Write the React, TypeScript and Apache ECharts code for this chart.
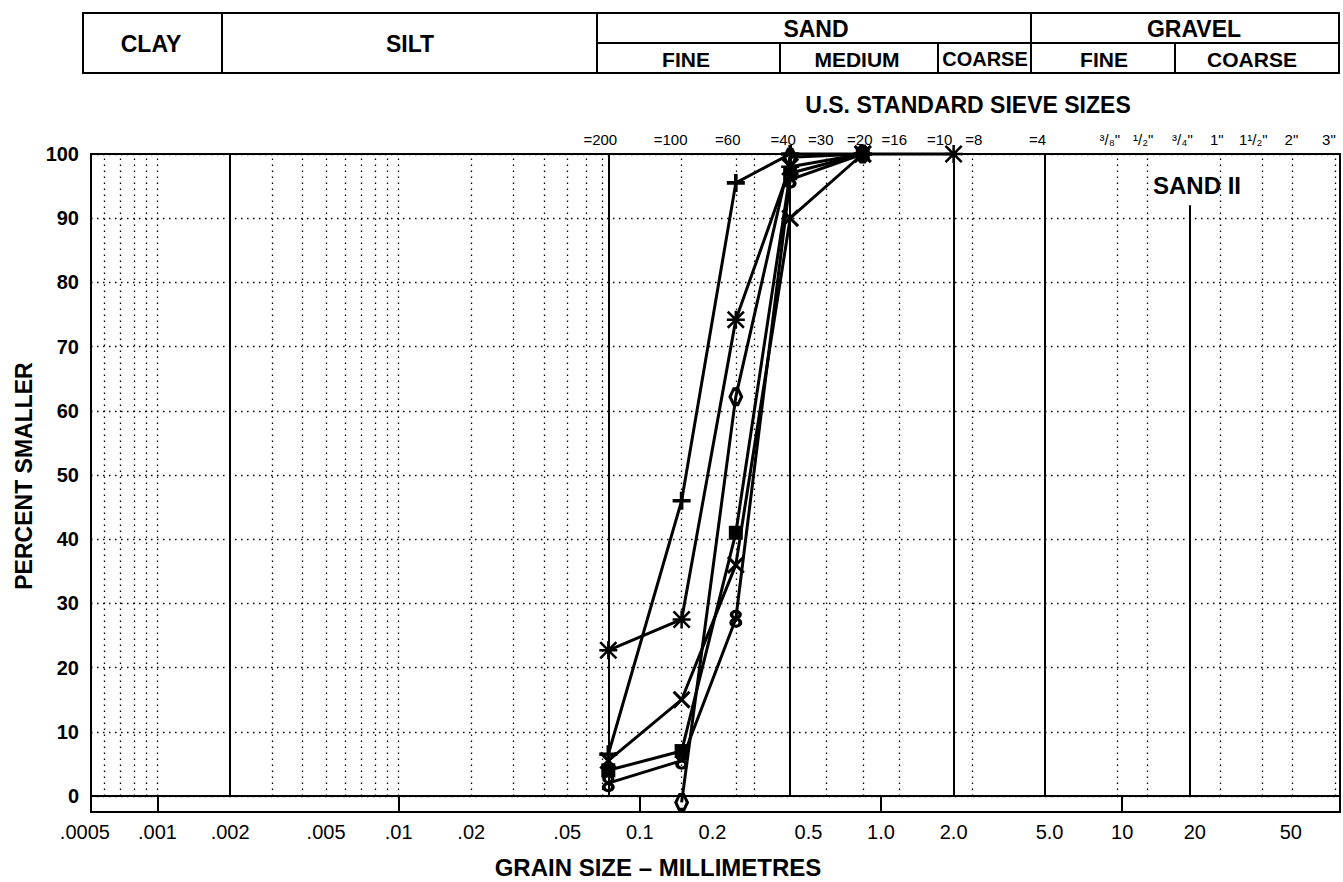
import React, { useEffect, useRef } from "react";
import * as echarts from "echarts";

// ---------- DATA ----------
// grain size (mm) vs percent smaller, six samples (SAND II)
const samplePlus = [[0.074, 6.5], [0.149, 46], [0.25, 95.5], [0.42, 100], [0.84, 100]];
const sampleStar = [[0.074, 22.7], [0.149, 27.5], [0.25, 74.2], [0.42, 98], [0.84, 100], [2.0, 100]];
const sampleCross = [[0.074, 5.5], [0.149, 15], [0.25, 36], [0.42, 90], [0.84, 100]];
const sampleHex = [[0.149, -1], [0.25, 62.2], [0.42, 99.5], [0.84, 100]];
const sampleSquare = [[0.074, 4], [0.149, 7], [0.25, 41], [0.42, 97], [0.84, 100]];
const sampleEight = [[0.074, 2], [0.149, 5.5], [0.25, 27.6], [0.42, 96], [0.84, 100]];

const xTickValues = [0.0005, 0.001, 0.002, 0.005, 0.01, 0.02, 0.05, 0.1, 0.2, 0.5, 1, 2, 5, 10, 20, 50];
const xTickLabels = [".0005", ".001", ".002", ".005", ".01", ".02", ".05", "0.1", "0.2", "0.5", "1.0", "2.0", "5.0", "10", "20", "50"];

const sieveValues = [0.074, 0.149, 0.25, 0.42, 0.59, 0.84, 1.19, 2.0, 2.38, 4.76, 9.5, 12.7, 19.0, 25.4, 38.1, 50.8, 76.2];
const sieveLabels = ["=200", "=100", "=60", "=40", "=30", "=20", "=16", "=10", "=8", "=4", "³/₈\"", "¹/₂\"", "³/₄\"", "1\"", "1¹/₂\"", "2\"", "3\""];

const boundaryValues = [0.002, 0.074, 0.42, 2.0, 4.76];
const gravelBoundary = 19.0;
const dottedValues = [
  0.0006, 0.0007, 0.0008, 0.0009, 0.001,
  0.003, 0.004, 0.005, 0.006, 0.007, 0.008, 0.009, 0.01,
  0.02, 0.03, 0.04, 0.05, 0.06, 0.07,
  0.149, 0.25, 0.297, 0.59, 0.84, 1.19, 2.38,
  9.5, 12.7, 25.4, 38.1, 50.8, 76.2,
];
const stripDecades = [0.001, 0.01, 0.1, 1, 10];

const X_MIN = 0.00053;
const X_MAX = 80;

// ---------- LAYOUT ----------
const FONT = '"Liberation Sans", Arial, Helvetica, sans-serif';
const PLOT = { left: 91, top: 154, width: 1249, height: 642 };
const STRIP_H = 16;
const TABLE = { left: 83, right: 1339, top: 13, mid: 43, bottom: 73 };
const tableFullDividers = [222, 597, 1031];
const tableLowerDividers = [780, 938, 1175];
const tableTexts = [
  { t: "CLAY", x: 151, y: 44, s: 23 },
  { t: "SILT", x: 410, y: 44, s: 23 },
  { t: "SAND", x: 816, y: 29, s: 23 },
  { t: "GRAVEL", x: 1194, y: 29, s: 23 },
  { t: "FINE", x: 686, y: 59, s: 21 },
  { t: "MEDIUM", x: 857, y: 59, s: 21 },
  { t: "COARSE", x: 985, y: 59, s: 20 },
  { t: "FINE", x: 1104, y: 59, s: 21 },
  { t: "COARSE", x: 1252, y: 59, s: 21 },
];
// horizontal nudge of each sieve label relative to its sieve line
const sieveLabelNudge = [-8, -11, -8, -7, -5, -3, -5, -14, 2, -7, -7, -4, -7, -3, -9, -1, -6];

const symPlus = "path://M4,0H6V4H10V6H6V10H4V6H0V4H4Z";
const symCross = "path://M1.2,0L5,3.8L8.8,0L10,1.2L6.2,5L10,8.8L8.8,10L5,6.2L1.2,10L0,8.8L3.8,5L0,1.2Z";
const symStar = "path://M4.3,0H5.7V10H4.3Z M0,4.3H10V5.7H0Z M1,0L5,4L9,0L10,1L6,5L10,9L9,10L5,6L1,10L0,9L4,5L0,1Z";
const symHex = "path://M3,0H7L10,5L7,10H3L0,5Z M3.9,2.2L2.3,5L3.9,7.8H6.1L7.7,5L6.1,2.2Z";
const symEight = "path://M0.8,3.2A3.2,3.2 0 1 1 7.2,3.2A3.2,3.2 0 1 1 0.8,3.2Z M2.7,3.2A1.3,1.3 0 1 0 5.3,3.2A1.3,1.3 0 1 0 2.7,3.2Z M0.6,8.6A3.4,3.4 0 1 1 7.4,8.6A3.4,3.4 0 1 1 0.6,8.6Z M2.6,8.6A1.4,1.4 0 1 0 5.4,8.6A1.4,1.4 0 1 0 2.6,8.6Z";

function sampleSeries(name: string, data: number[][], symbol: string, size: any) {
  return {
    name,
    type: "line",
    xAxisIndex: 0,
    yAxisIndex: 0,
    data,
    symbol,
    symbolSize: size,
    showSymbol: true,
    clip: false,
    z: 5,
    lineStyle: { color: "#000", width: 3 },
    itemStyle: { color: "#000" },
  };
}

function vLines(values: any[], style: any, xi: number) {
  return {
    type: "scatter",
    xAxisIndex: xi,
    yAxisIndex: xi,
    data: [],
    silent: true,
    markLine: {
      symbol: ["none", "none"],
      silent: true,
      precision: 8,
      label: { show: false },
      lineStyle: style,
      data: values,
    },
  };
}

export default function App() {
  const ref = useRef<HTMLDivElement>(null);
  useEffect(() => {
    const chart = echarts.init(ref.current!, undefined, { renderer: "svg" });
    const dotted = { color: "#000", width: 1.3, type: [1.5, 4.5] as any };
    const solid = { color: "#000", width: 2, type: "solid" };
    const option: any = {
      animation: false,
      backgroundColor: "#fff",
      grid: [
        { left: PLOT.left, top: PLOT.top, width: PLOT.width, height: PLOT.height, show: true, borderColor: "#000", borderWidth: 2, backgroundColor: "transparent" },
        { left: PLOT.left, top: PLOT.top + PLOT.height, width: PLOT.width, height: STRIP_H, show: true, borderColor: "#000", borderWidth: 2, backgroundColor: "transparent" },
      ],
      xAxis: [0, 1].map((gi) => ({
        type: "log",
        logBase: 10,
        min: X_MIN,
        max: X_MAX,
        gridIndex: gi,
        axisLine: { show: false },
        axisTick: { show: false },
        axisLabel: { show: false },
        splitLine: { show: false },
      })),
      yAxis: [
        {
          type: "value",
          min: 0,
          max: 100,
          interval: 10,
          gridIndex: 0,
          axisLine: { show: false },
          axisTick: { show: false },
          axisLabel: { color: "#000", fontSize: 20, fontWeight: "bold", fontFamily: FONT, margin: 12 },
          splitLine: { show: true, lineStyle: dotted },
        },
        { type: "value", min: 0, max: 1, gridIndex: 1, show: false, splitLine: { show: false } },
      ],
      series: [
        vLines(dottedValues.map((v) => ({ xAxis: v })), dotted, 0),
        vLines(
          [
            ...boundaryValues.map((v) => ({ xAxis: v })),
            [{ coord: [gravelBoundary, 0] }, { coord: [gravelBoundary, 92] }],
          ],
          solid,
          0
        ),
        vLines(stripDecades.map((v) => ({ xAxis: v })), solid, 1),
        sampleSeries("plus", samplePlus, symPlus, 18),
        sampleSeries("star", sampleStar, symStar, 18),
        sampleSeries("cross", sampleCross, symCross, 18),
        sampleSeries("hex", sampleHex, symHex, [15, 19]),
        sampleSeries("square", sampleSquare, "rect", 14),
        sampleSeries("eight", sampleEight, symEight, [13, 18]),
      ],
    };
    chart.setOption(option);

    const px = (v: number) => chart.convertToPixel({ xAxisIndex: 0 }, v) as number;
    const g: any[] = [];
    // table
    g.push({ type: "rect", shape: { x: TABLE.left, y: TABLE.top, width: TABLE.right - TABLE.left, height: TABLE.bottom - TABLE.top }, style: { fill: "none", stroke: "#000", lineWidth: 2 } });
    g.push({ type: "line", shape: { x1: tableFullDividers[1], y1: TABLE.mid, x2: TABLE.right, y2: TABLE.mid }, style: { stroke: "#000", lineWidth: 2 } });
    tableFullDividers.forEach((x) => g.push({ type: "line", shape: { x1: x, y1: TABLE.top, x2: x, y2: TABLE.bottom }, style: { stroke: "#000", lineWidth: 2 } }));
    tableLowerDividers.forEach((x) => g.push({ type: "line", shape: { x1: x, y1: TABLE.mid, x2: x, y2: TABLE.bottom }, style: { stroke: "#000", lineWidth: 2 } }));
    tableTexts.forEach((t) => g.push({ type: "text", x: t.x, y: t.y, style: { text: t.t, fill: "#000", font: `bold ${t.s}px ${FONT}`, align: "center", verticalAlign: "middle" } }));
    // titles
    g.push({ type: "text", x: 968, y: 105, style: { text: "U.S. STANDARD SIEVE SIZES", fill: "#000", font: `bold 23px ${FONT}`, align: "center", verticalAlign: "middle" } });
    g.push({ type: "text", x: 658, y: 867, style: { text: "GRAIN SIZE – MILLIMETRES", fill: "#000", font: `bold 24px ${FONT}`, align: "center", verticalAlign: "middle" } });
    g.push({ type: "text", x: 24, y: 476, rotation: Math.PI / 2, style: { text: "PERCENT SMALLER", fill: "#000", font: `bold 23px ${FONT}`, align: "center", verticalAlign: "middle" } });
    g.push({ type: "text", x: 1197, y: 185, z: 10, style: { text: "SAND II", fill: "#000", font: `bold 24px ${FONT}`, align: "center", verticalAlign: "middle" } });
    // sieve labels
    sieveValues.forEach((v, i) => {
      g.push({ type: "text", x: px(v) + sieveLabelNudge[i], y: 139, style: { text: sieveLabels[i], fill: "#000", font: `15px ${FONT}`, align: "center", verticalAlign: "middle" } });
    });
    // x tick labels
    xTickValues.forEach((v, i) => {
      g.push({ type: "text", x: px(v), y: 832, style: { text: xTickLabels[i], fill: "#000", font: `20px ${FONT}`, align: "center", verticalAlign: "middle" } });
    });
    chart.setOption({ graphic: g });
    return () => chart.dispose();
  }, []);
  return <div ref={ref} style={{ position: "fixed", left: 0, top: 0, width: 1343, height: 882, background: "#fff" }} />;
}
